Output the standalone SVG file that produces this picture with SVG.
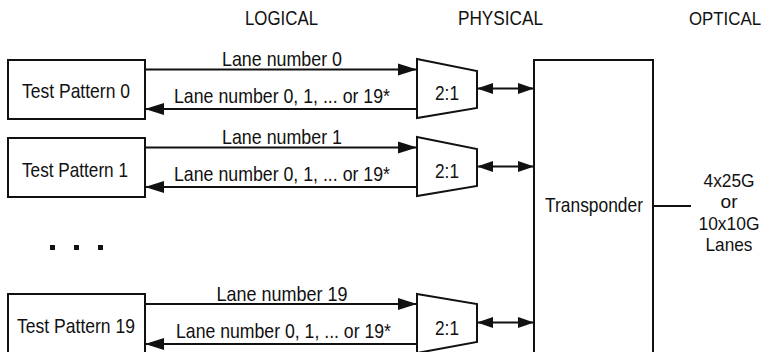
<svg xmlns="http://www.w3.org/2000/svg" width="771" height="352" viewBox="0 0 771 352" font-family="'Liberation Sans', Arial, sans-serif" font-size="21">
<style>
text{fill:#111}
.box{fill:#fff;stroke:#111;stroke-width:2}
.ln{fill:none;stroke:#111;stroke-width:2}
.arr{marker-end:url(#ah)}
.dbl{marker-end:url(#ah2);marker-start:url(#ah2)}
</style>
<defs>
<marker id="ah" markerUnits="userSpaceOnUse" markerWidth="20" markerHeight="13" refX="19" refY="6.5" orient="auto">
<path d="M0,0.5 L19,6.5 L0,12.5 z" fill="#111"/>
</marker>
<marker id="ah2" markerUnits="userSpaceOnUse" markerWidth="17" markerHeight="13" refX="16" refY="6.5" orient="auto-start-reverse">
<path d="M0,1 L16,6.5 L0,12 z" fill="#111"/>
</marker>
</defs>
<rect width="771" height="352" fill="#fff"/>
<g id="headers" font-size="20">
<text x="281.5" y="25" text-anchor="middle" textLength="73" lengthAdjust="spacingAndGlyphs">LOGICAL</text>
<text x="500.5" y="25" text-anchor="middle" textLength="85" lengthAdjust="spacingAndGlyphs">PHYSICAL</text>
<text x="725" y="25" text-anchor="middle" font-size="19" textLength="72" lengthAdjust="spacingAndGlyphs">OPTICAL</text>
</g>
<g id="tp0">
<rect class="box" x="8" y="60" width="137" height="59"/>
<text x="22" y="98" textLength="108" lengthAdjust="spacingAndGlyphs">Test Pattern 0</text>
</g>
<g id="tp1">
<rect class="box" x="8" y="138" width="137" height="59"/>
<text x="22" y="177" textLength="106" lengthAdjust="spacingAndGlyphs">Test Pattern 1</text>
</g>
<g id="dots">
<rect x="50" y="245" width="5" height="5" fill="#111"/>
<rect x="74" y="245" width="5" height="5" fill="#111"/>
<rect x="98" y="245" width="5" height="5" fill="#111"/>
</g>
<g id="tp19">
<rect class="box" x="8" y="294" width="137" height="70"/>
<text x="17" y="333" textLength="118" lengthAdjust="spacingAndGlyphs">Test Pattern 19</text>
</g>
<g id="mux0">
<path class="box" d="M417,59 L477,71 L477,108 L417,118 z"/>
<text x="447" y="100" text-anchor="middle" textLength="24" lengthAdjust="spacingAndGlyphs">2:1</text>
</g>
<g id="mux1">
<path class="box" d="M417,137 L477,149 L477,186 L417,196 z"/>
<text x="447" y="178" text-anchor="middle" textLength="24" lengthAdjust="spacingAndGlyphs">2:1</text>
</g>
<g id="mux19">
<path class="box" d="M417,294 L477,304 L477,342 L417,353 z"/>
<text x="447" y="335" text-anchor="middle" textLength="24" lengthAdjust="spacingAndGlyphs">2:1</text>
</g>
<g id="transponder">
<rect class="box" x="534" y="60" width="119" height="310"/>
<text x="594" y="212" text-anchor="middle" textLength="98" lengthAdjust="spacingAndGlyphs">Transponder</text>
</g>
<g id="optical" font-size="19">
<text x="729" y="187" text-anchor="middle" textLength="51" lengthAdjust="spacingAndGlyphs">4x25G</text>
<text x="729" y="208" text-anchor="middle" textLength="17" lengthAdjust="spacingAndGlyphs">or</text>
<text x="729" y="230" text-anchor="middle" textLength="61" lengthAdjust="spacingAndGlyphs">10x10G</text>
<text x="729" y="251" text-anchor="middle" textLength="47" lengthAdjust="spacingAndGlyphs">Lanes</text>
</g>
<g id="connectors">
<line class="ln arr" x1="145" y1="69.5" x2="417" y2="69.5"/>
<line class="ln arr" x1="417" y1="109" x2="145" y2="109"/>
<line class="ln arr" x1="145" y1="147.5" x2="417" y2="147.5"/>
<line class="ln arr" x1="417" y1="187" x2="145" y2="187"/>
<line class="ln arr" x1="145" y1="304" x2="417" y2="304"/>
<line class="ln arr" x1="417" y1="344" x2="145" y2="344"/>
<line class="ln dbl" x1="477" y1="88.5" x2="534" y2="88.5"/>
<line class="ln dbl" x1="477" y1="166.5" x2="534" y2="166.5"/>
<line class="ln dbl" x1="477" y1="322.5" x2="534" y2="322.5"/>
<line class="ln" x1="653" y1="206" x2="691" y2="206"/>
<text x="282" y="66" text-anchor="middle" textLength="120" lengthAdjust="spacingAndGlyphs">Lane number 0</text>
<text x="174" y="103" textLength="216" lengthAdjust="spacingAndGlyphs">Lane number 0, 1, ... or 19*</text>
<text x="282" y="144" text-anchor="middle" textLength="120" lengthAdjust="spacingAndGlyphs">Lane number 1</text>
<text x="174" y="181" textLength="216" lengthAdjust="spacingAndGlyphs">Lane number 0, 1, ... or 19*</text>
<text x="282" y="301" text-anchor="middle" textLength="131" lengthAdjust="spacingAndGlyphs">Lane number 19</text>
<text x="176" y="338" textLength="215" lengthAdjust="spacingAndGlyphs">Lane number 0, 1, ... or 19*</text>
</g>
</svg>
